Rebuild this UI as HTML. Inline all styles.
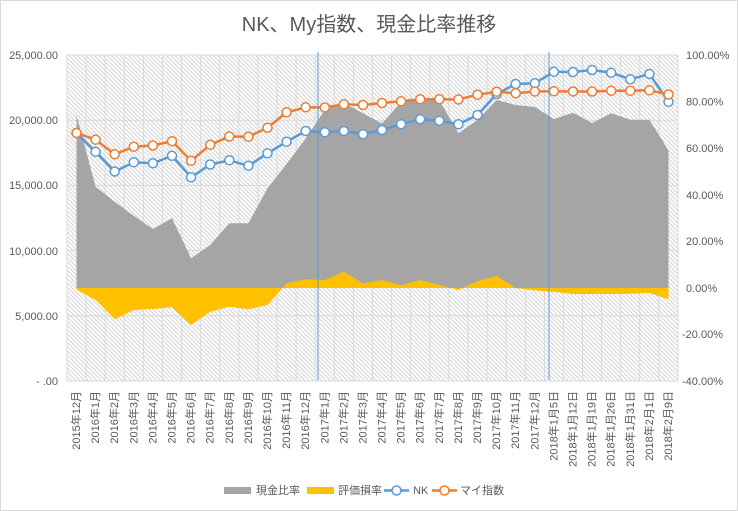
<!DOCTYPE html>
<html>
<head>
<meta charset="utf-8">
<style>
html,body{margin:0;padding:0;background:#fff;}
svg{display:block;}
text{font-family:"Liberation Sans","Noto Sans CJK JP",sans-serif;fill:#595959;}
</style>
</head>
<body>
<svg width="738" height="511" viewBox="0 0 738 511" xmlns="http://www.w3.org/2000/svg">
<defs>
<pattern id="hatch" patternUnits="userSpaceOnUse" width="3" height="3" patternTransform="rotate(-45)">
<rect width="3" height="3" fill="#ffffff"/>
<line x1="0.5" y1="0" x2="0.5" y2="3" stroke="#d2d2d2" stroke-width="1"/>
</pattern>
</defs>
<rect x="0.5" y="0.5" width="737" height="510" fill="#fff" stroke="#d9d9d9"/>
<text x="369" y="31" font-size="20" text-anchor="middle">NK、My指数、現金比率推移</text>

<rect x="67" y="55" width="611" height="326" fill="url(#hatch)"/>
<g stroke="#d9d9d9" stroke-width="1">
<line x1="67" y1="55" x2="678" y2="55"/>
<line x1="67" y1="120.2" x2="678" y2="120.2"/>
<line x1="67" y1="185.4" x2="678" y2="185.4"/>
<line x1="67" y1="250.6" x2="678" y2="250.6"/>
<line x1="67" y1="315.8" x2="678" y2="315.8"/>
<line x1="67" y1="381" x2="678" y2="381"/>
<line x1="67" y1="55" x2="67" y2="381"/><line x1="86.1" y1="55" x2="86.1" y2="381"/><line x1="105.2" y1="55" x2="105.2" y2="381"/><line x1="124.3" y1="55" x2="124.3" y2="381"/><line x1="143.4" y1="55" x2="143.4" y2="381"/><line x1="162.5" y1="55" x2="162.5" y2="381"/><line x1="181.6" y1="55" x2="181.6" y2="381"/><line x1="200.7" y1="55" x2="200.7" y2="381"/><line x1="219.8" y1="55" x2="219.8" y2="381"/><line x1="238.8" y1="55" x2="238.8" y2="381"/><line x1="257.9" y1="55" x2="257.9" y2="381"/><line x1="277" y1="55" x2="277" y2="381"/><line x1="296.1" y1="55" x2="296.1" y2="381"/><line x1="315.2" y1="55" x2="315.2" y2="381"/><line x1="334.3" y1="55" x2="334.3" y2="381"/><line x1="353.4" y1="55" x2="353.4" y2="381"/><line x1="372.5" y1="55" x2="372.5" y2="381"/><line x1="391.6" y1="55" x2="391.6" y2="381"/><line x1="410.7" y1="55" x2="410.7" y2="381"/><line x1="429.8" y1="55" x2="429.8" y2="381"/><line x1="448.9" y1="55" x2="448.9" y2="381"/><line x1="468" y1="55" x2="468" y2="381"/><line x1="487.1" y1="55" x2="487.1" y2="381"/><line x1="506.2" y1="55" x2="506.2" y2="381"/><line x1="525.3" y1="55" x2="525.3" y2="381"/><line x1="544.4" y1="55" x2="544.4" y2="381"/><line x1="563.4" y1="55" x2="563.4" y2="381"/><line x1="582.5" y1="55" x2="582.5" y2="381"/><line x1="601.6" y1="55" x2="601.6" y2="381"/><line x1="620.7" y1="55" x2="620.7" y2="381"/><line x1="639.8" y1="55" x2="639.8" y2="381"/><line x1="658.9" y1="55" x2="658.9" y2="381"/><line x1="678" y1="55" x2="678" y2="381"/>
</g>

<polygon fill="#a5a5a5" points="76.5,288 76.5,115 95.6,186.7 114.7,201.7 133.8,215.7 152.9,229 172,218.3 191.1,258.3 210.2,245 229.3,223.3 248.4,223.3 267.5,188.3 286.6,164 305.7,138.5 324.8,110 343.9,103 363,113.3 382,123.5 401.1,102 420.2,99.5 439.3,100 458.4,133.3 477.5,120 496.6,100 515.7,105 534.8,107 553.9,119 573,112.7 592.1,123 611.2,113.3 630.3,119.7 649.4,119.7 668.5,150.5 668.5,288"/>
<polygon fill="#ffc000" points="76.5,288 76.5,289.5 95.6,300 114.7,319.3 133.8,310 152.9,309 172,307.3 191.1,325 210.2,311.7 229.3,306.7 248.4,309.3 267.5,305 286.6,283.3 305.7,279.3 324.8,280 343.9,271.7 363,283.3 382,280 401.1,285.3 420.2,280 439.3,285 458.4,290 477.5,281 496.6,276 515.7,288 534.8,290.5 553.9,291.7 573,294 592.1,294 611.2,294 630.3,293.7 649.4,293 668.5,299.3 668.5,288"/>

<g fill="none" stroke="#5b9bd5" stroke-width="2.5" stroke-linejoin="round">
<polyline points="76.5,133 95.6,151.8 114.7,171.5 133.8,162.3 152.9,163.3 172,155.8 191.1,177.3 210.2,164.5 229.3,160.3 248.4,165.8 267.5,153.3 286.6,141.7 305.7,131 324.8,132.3 343.9,131 363,134.2 382,130 401.1,124.2 420.2,119.2 439.3,120.7 458.4,124.3 477.5,115 496.6,94 515.7,84 534.8,83.3 553.9,71.8 573,72 592.1,70 611.2,72.7 630.3,79.3 649.4,74 668.5,101.8"/>
</g>
<g fill="#fff" stroke="#5b9bd5" stroke-width="1.5">
<circle cx="76.5" cy="133" r="4.5"/><circle cx="95.6" cy="151.8" r="4.5"/><circle cx="114.7" cy="171.5" r="4.5"/><circle cx="133.8" cy="162.3" r="4.5"/><circle cx="152.9" cy="163.3" r="4.5"/><circle cx="172" cy="155.8" r="4.5"/><circle cx="191.1" cy="177.3" r="4.5"/><circle cx="210.2" cy="164.5" r="4.5"/><circle cx="229.3" cy="160.3" r="4.5"/><circle cx="248.4" cy="165.8" r="4.5"/><circle cx="267.5" cy="153.3" r="4.5"/><circle cx="286.6" cy="141.7" r="4.5"/><circle cx="305.7" cy="131" r="4.5"/><circle cx="324.8" cy="132.3" r="4.5"/><circle cx="343.9" cy="131" r="4.5"/><circle cx="363" cy="134.2" r="4.5"/><circle cx="382" cy="130" r="4.5"/><circle cx="401.1" cy="124.2" r="4.5"/><circle cx="420.2" cy="119.2" r="4.5"/><circle cx="439.3" cy="120.7" r="4.5"/><circle cx="458.4" cy="124.3" r="4.5"/><circle cx="477.5" cy="115" r="4.5"/><circle cx="496.6" cy="94" r="4.5"/><circle cx="515.7" cy="84" r="4.5"/><circle cx="534.8" cy="83.3" r="4.5"/><circle cx="553.9" cy="71.8" r="4.5"/><circle cx="573" cy="72" r="4.5"/><circle cx="592.1" cy="70" r="4.5"/><circle cx="611.2" cy="72.7" r="4.5"/><circle cx="630.3" cy="79.3" r="4.5"/><circle cx="649.4" cy="74" r="4.5"/><circle cx="668.5" cy="101.8" r="4.5"/>
</g>

<g fill="none" stroke="#ed7d31" stroke-width="2.5" stroke-linejoin="round">
<polyline points="76.5,133 95.6,139.7 114.7,154.3 133.8,146.7 152.9,145.5 172,141.2 191.1,160.8 210.2,144.8 229.3,136.5 248.4,136.8 267.5,127.7 286.6,112.3 305.7,107.3 324.8,107.5 343.9,104.2 363,105 382,103 401.1,101.3 420.2,99.2 439.3,99.2 458.4,99.5 477.5,94.7 496.6,91.8 515.7,93.3 534.8,91.5 553.9,91.3 573,91.5 592.1,91.5 611.2,90.7 630.3,90.7 649.4,90.3 668.5,94.5"/>
</g>
<g fill="#fff" stroke="#ed7d31" stroke-width="1.5">
<circle cx="76.5" cy="133" r="4.5"/><circle cx="95.6" cy="139.7" r="4.5"/><circle cx="114.7" cy="154.3" r="4.5"/><circle cx="133.8" cy="146.7" r="4.5"/><circle cx="152.9" cy="145.5" r="4.5"/><circle cx="172" cy="141.2" r="4.5"/><circle cx="191.1" cy="160.8" r="4.5"/><circle cx="210.2" cy="144.8" r="4.5"/><circle cx="229.3" cy="136.5" r="4.5"/><circle cx="248.4" cy="136.8" r="4.5"/><circle cx="267.5" cy="127.7" r="4.5"/><circle cx="286.6" cy="112.3" r="4.5"/><circle cx="305.7" cy="107.3" r="4.5"/><circle cx="324.8" cy="107.5" r="4.5"/><circle cx="343.9" cy="104.2" r="4.5"/><circle cx="363" cy="105" r="4.5"/><circle cx="382" cy="103" r="4.5"/><circle cx="401.1" cy="101.3" r="4.5"/><circle cx="420.2" cy="99.2" r="4.5"/><circle cx="439.3" cy="99.2" r="4.5"/><circle cx="458.4" cy="99.5" r="4.5"/><circle cx="477.5" cy="94.7" r="4.5"/><circle cx="496.6" cy="91.8" r="4.5"/><circle cx="515.7" cy="93.3" r="4.5"/><circle cx="534.8" cy="91.5" r="4.5"/><circle cx="553.9" cy="91.3" r="4.5"/><circle cx="573" cy="91.5" r="4.5"/><circle cx="592.1" cy="91.5" r="4.5"/><circle cx="611.2" cy="90.7" r="4.5"/><circle cx="630.3" cy="90.7" r="4.5"/><circle cx="649.4" cy="90.3" r="4.5"/><circle cx="668.5" cy="94.5" r="4.5"/>
</g>

<line x1="318" y1="52" x2="318" y2="380" stroke="#5b9bd5" stroke-width="1"/>
<line x1="549" y1="52" x2="549" y2="380" stroke="#5b9bd5" stroke-width="1"/>

<g font-size="11" text-anchor="end">
<text x="58" y="59">25,000.00</text>
<text x="58" y="124">20,000.00</text>
<text x="58" y="189">15,000.00</text>
<text x="58" y="255">10,000.00</text>
<text x="58" y="320">5,000.00</text>
<text x="58" y="385">- .00</text>
</g>
<g font-size="11">
<text x="686" y="59">100.00%</text>
<text x="686" y="105.5">80.00%</text>
<text x="686" y="152">60.00%</text>
<text x="686" y="199">40.00%</text>
<text x="686" y="245">20.00%</text>
<text x="686" y="292">0.00%</text>
<text x="682" y="338">-20.00%</text>
<text x="682" y="385">-40.00%</text>
</g>

<g font-size="11" text-anchor="end">
<text transform="translate(80,391) rotate(-90)">2015年12月</text>
<text transform="translate(99.1,391) rotate(-90)">2016年1月</text>
<text transform="translate(118.2,391) rotate(-90)">2016年2月</text>
<text transform="translate(137.3,391) rotate(-90)">2016年3月</text>
<text transform="translate(156.4,391) rotate(-90)">2016年4月</text>
<text transform="translate(175.5,391) rotate(-90)">2016年5月</text>
<text transform="translate(194.6,391) rotate(-90)">2016年6月</text>
<text transform="translate(213.7,391) rotate(-90)">2016年7月</text>
<text transform="translate(232.8,391) rotate(-90)">2016年8月</text>
<text transform="translate(251.9,391) rotate(-90)">2016年9月</text>
<text transform="translate(271,391) rotate(-90)">2016年10月</text>
<text transform="translate(290.1,391) rotate(-90)">2016年11月</text>
<text transform="translate(309.2,391) rotate(-90)">2016年12月</text>
<text transform="translate(328.3,391) rotate(-90)">2017年1月</text>
<text transform="translate(347.4,391) rotate(-90)">2017年2月</text>
<text transform="translate(366.5,391) rotate(-90)">2017年3月</text>
<text transform="translate(385.5,391) rotate(-90)">2017年4月</text>
<text transform="translate(404.6,391) rotate(-90)">2017年5月</text>
<text transform="translate(423.7,391) rotate(-90)">2017年6月</text>
<text transform="translate(442.8,391) rotate(-90)">2017年7月</text>
<text transform="translate(461.9,391) rotate(-90)">2017年8月</text>
<text transform="translate(481,391) rotate(-90)">2017年9月</text>
<text transform="translate(500.1,391) rotate(-90)">2017年10月</text>
<text transform="translate(519.2,391) rotate(-90)">2017年11月</text>
<text transform="translate(538.3,391) rotate(-90)">2017年12月</text>
<text transform="translate(557.4,391) rotate(-90)">2018年1月5日</text>
<text transform="translate(576.5,391) rotate(-90)">2018年1月12日</text>
<text transform="translate(595.6,391) rotate(-90)">2018年1月19日</text>
<text transform="translate(614.7,391) rotate(-90)">2018年1月26日</text>
<text transform="translate(633.8,391) rotate(-90)">2018年1月31日</text>
<text transform="translate(652.9,391) rotate(-90)">2018年2月1日</text>
<text transform="translate(672,391) rotate(-90)">2018年2月9日</text>
</g>

<rect x="224" y="487" width="27" height="7" fill="#a5a5a5"/>
<text x="256" y="494" font-size="11">現金比率</text>
<rect x="307" y="487" width="27" height="7" fill="#ffc000"/>
<text x="338" y="494" font-size="11">評価損率</text>
<line x1="384" y1="490.5" x2="409" y2="490.5" stroke="#5b9bd5" stroke-width="2.5"/>
<circle cx="396.5" cy="490.5" r="4.5" fill="#fff" stroke="#5b9bd5" stroke-width="1.5"/>
<text x="413" y="494" font-size="11">NK</text>
<line x1="432" y1="490.5" x2="457" y2="490.5" stroke="#ed7d31" stroke-width="2.5"/>
<circle cx="444.5" cy="490.5" r="4.5" fill="#fff" stroke="#ed7d31" stroke-width="1.5"/>
<text x="460" y="494" font-size="11">マイ指数</text>
</svg>
</body>
</html>
